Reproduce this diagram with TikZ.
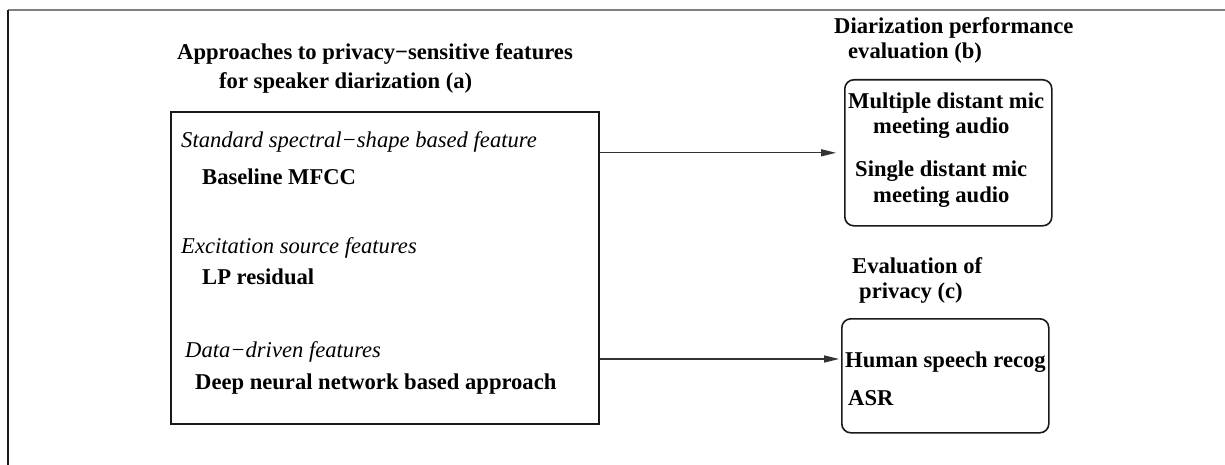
\documentclass[tikz,border=0pt]{standalone}
\usepackage{fontspec}
\setmainfont{Liberation Serif}
\usetikzlibrary{arrows.meta}
\tikzset{
  txt/.style={anchor=west,inner sep=0pt,text height=15pt,text depth=5pt,font=\fontsize{22.6}{25}\selectfont\bfseries},
  itx/.style={txt,font=\fontsize{22.6}{25}\selectfont\itshape},
  bigbox/.style={draw=black!90,line width=1.6pt,inner sep=0pt,anchor=north west},
  rbox/.style={bigbox,rounded corners=9pt},
  arr/.style={draw=black!80,line width=1.4pt,-{Triangle[length=15pt,width=7pt]}},
  frameline/.style={line width=1.8pt}
}
\begin{document}
\begin{tikzpicture}[x=1pt,y=-1pt]
\useasboundingbox (0,0) rectangle (1225,465);
% open frame
\coordinate (fc) at (8,10);
\coordinate (fr) at (1225,10);
\coordinate (fb) at (8,465);
\draw[frameline,draw=black!50] (fc) -- (fr);
\draw[frameline,draw=black!90] (fc) -- (fb);

% (a) headings and box
\node[txt] (ha1) at (177,55) {Approaches to privacy−sensitive features};
\node[txt] (ha2) at (219,84) {for speaker diarization (a)};
\node[bigbox,minimum width=428pt,minimum height=312pt] (main) at (170,111) {};
\node[itx] (s1) at (181,143) {Standard spectral−shape based feature};
\node[txt] (b1) at (202,180) {Baseline MFCC};
\node[itx] (s2) at (181,248) {Excitation source features};
\node[txt] (b2) at (202,279) {LP residual};
\node[itx] (s3) at (185,352) {Data−driven features};
\node[txt] (b3) at (195,384) {Deep neural network based approach};

% (b)
\node[txt] (hb1) at (834,29) {Diarization performance};
\node[txt] (hb2) at (848,54) {evaluation (b)};
\node[rbox,minimum width=207pt,minimum height=146pt] (bbox) at (844,79) {};
\node[txt] (m1) at (848,104) {Multiple distant mic};
\node[txt] (m2) at (873,129) {meeting audio};
\node[txt] (m3) at (855,172) {Single distant mic};
\node[txt] (m4) at (873,197) {meeting audio};

% (c)
\node[txt] (hc1) at (852,268) {Evaluation of};
\node[txt] (hc2) at (859,293) {privacy (c)};
\node[rbox,minimum width=207pt,minimum height=114pt] (cbox) at (841,318) {};
\node[txt] (c1) at (845,362) {Human speech recog};
\node[txt] (c2) at (848,400) {ASR};

% connectors
\coordinate (t1) at ([xshift=-8pt]bbox.west);
\draw[arr] (main.east |- t1) -- (t1);
\coordinate (t2) at ([xshift=-6pt,yshift=3pt]c1.west);
\draw[arr] (main.east |- t2) -- (t2);
\end{tikzpicture}
\end{document}
